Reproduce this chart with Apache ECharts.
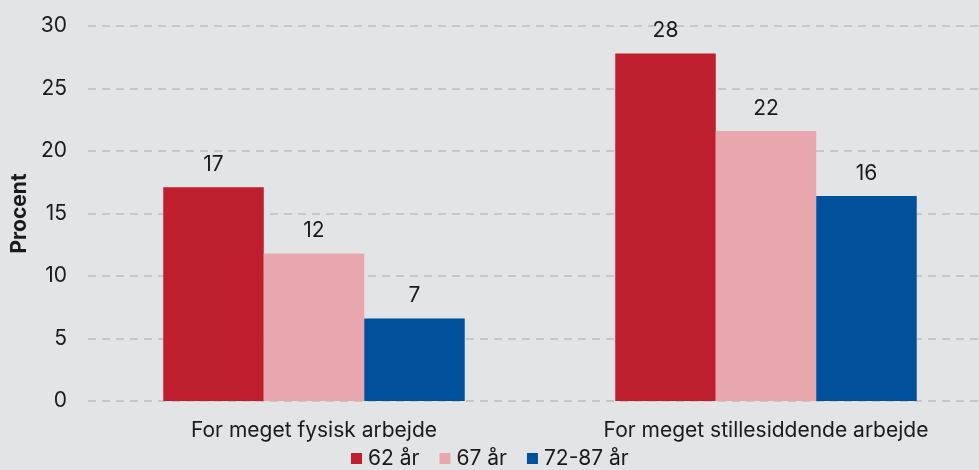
<!DOCTYPE html>
<html>
<head>
<meta charset="utf-8">
<script src="https://cdn.jsdelivr.net/npm/echarts@6/dist/echarts.min.js"></script>
<style>
  html, body { margin: 0; padding: 0; background: #e3e4e6; overflow: hidden; }
  #chart { width: 992px; height: 470px; }
</style>
</head>
<body>
<div id="chart"></div>
<script>
const categories = ['For meget fysisk arbejde', 'For meget stillesiddende arbejde']
const seriesNames = ['62 år', '67 år', '72-87 år']
const age62 = [17.1, 27.8]
const age67 = [11.8, 21.6]
const age72 = [6.6, 16.4]
const yTicks = [0, 5, 10, 15, 20, 25, 30]

const colors = ['#be1e2d', '#e8a7ac', '#00509b']
const font = 'Inter'
const fs = 21

const chart = echarts.init(document.getElementById('chart'))

const mkSeries = (name, data, color) => ({
    name,
    type: 'bar',
    data,
    barGap: 0,
    barCategoryGap: '33.3%',
    itemStyle: { color },
    label: {
        show: true,
        position: 'top',
        distance: 12,
        color: '#1a1a1a',
        fontFamily: font,
        fontSize: fs,
        formatter: p => Math.round(p.value)
    }
})

const option = {
    backgroundColor: '#e3e4e6',
    animation: false,
    textStyle: { fontFamily: font },
    grid: { left: 88, right: 0, top: 26, height: 375, containLabel: false },
    legend: {
        data: seriesNames,
        left: 351,
        top: 448,
        padding: 0,
        icon: 'rect',
        itemWidth: 11,
        itemHeight: 11,
        itemGap: 20,
        textStyle: { fontFamily: font, fontSize: fs, color: '#1a1a1a', padding: [0, 0, 0, 1] }
    },
    xAxis: {
        type: 'category',
        data: categories,
        axisLine: { show: false },
        axisTick: { show: false },
        axisLabel: { color: '#1a1a1a', fontFamily: font, fontSize: fs, margin: 19 }
    },
    yAxis: {
        type: 'value',
        min: yTicks[0],
        max: yTicks[yTicks.length - 1],
        interval: 5,
        name: 'Procent',
        nameLocation: 'middle',
        nameGap: 58,
        nameTextStyle: { fontFamily: font, fontSize: 21, fontWeight: 'bold', color: '#1a1a1a' },
        axisLine: { show: false },
        axisTick: { show: false },
        axisLabel: { color: '#1a1a1a', fontFamily: font, fontSize: fs, margin: 21 },
        splitLine: { lineStyle: { color: '#bdbdbd', type: [8, 6], width: 1.5 } }
    },
    series: [
        mkSeries(seriesNames[0], age62, colors[0]),
        mkSeries(seriesNames[1], age67, colors[1]),
        mkSeries(seriesNames[2], age72, colors[2])
    ]
}

chart.setOption(option)
</script>
</body>
</html>
